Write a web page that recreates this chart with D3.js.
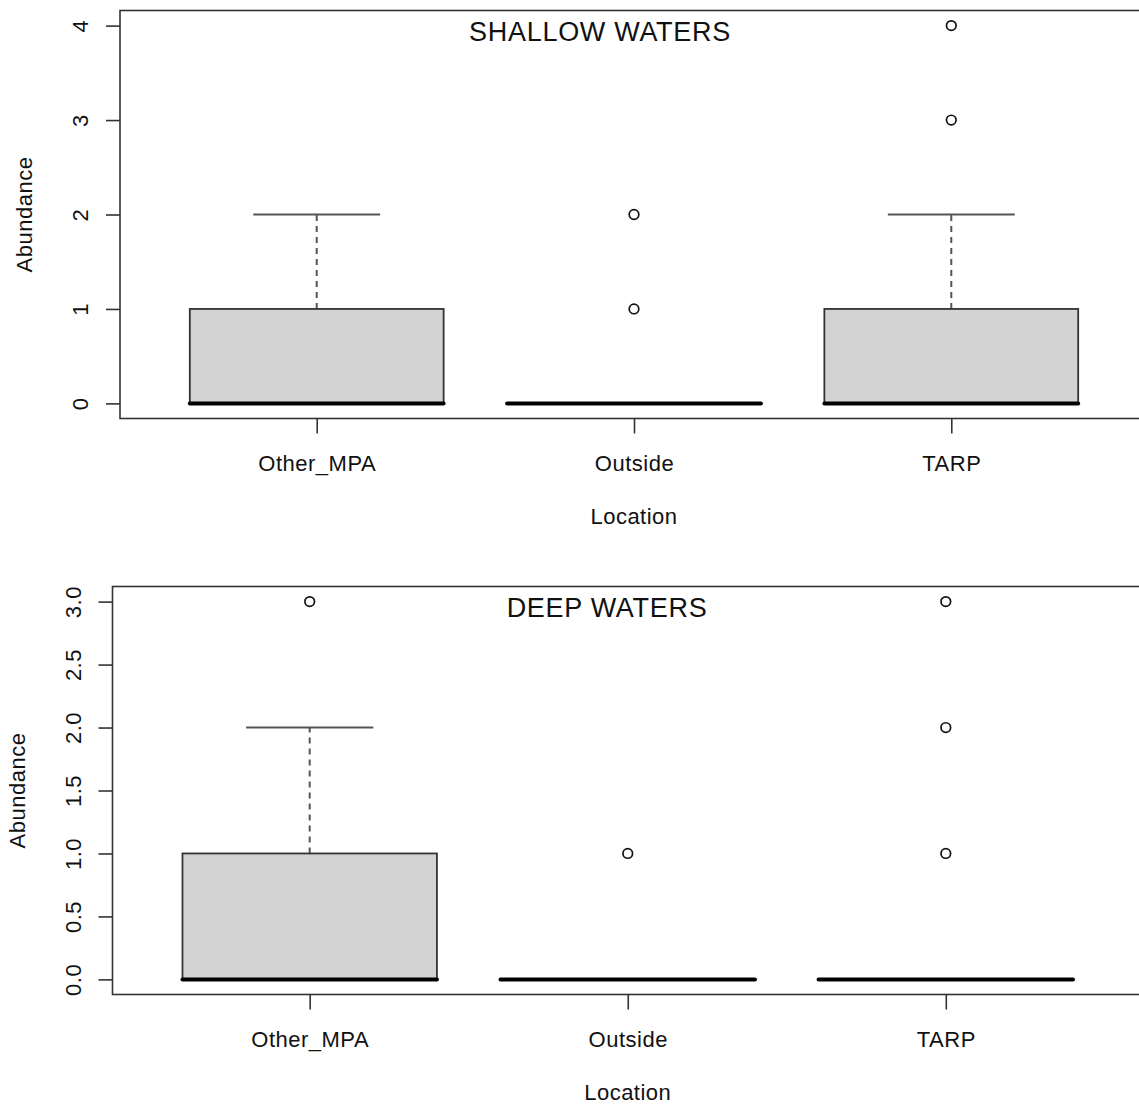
<!DOCTYPE html>
<html>
<head>
<meta charset="utf-8">
<script src="https://cdn.jsdelivr.net/npm/d3@7"></script>
<style>
  body { margin: 0; background: #fff; }
  svg { display: block; font-family: 'Liberation Sans', Arial, sans-serif; }
  .tick text { fill: #111; }
</style>
</head>
<body>
<svg id="chart"></svg>
<script>
const locations = ['Other_MPA', 'Outside', 'TARP'];

// shallow waters box stats (per location)
const shallowLow = [0, 0, 0];
const shallowQ1 = [0, 0, 0];
const shallowMedian = [0, 0, 0];
const shallowQ3 = [1, 0, 1];
const shallowHigh = [2, 0, 2];
const shallowOutliers = [[], [1, 2], [3, 4]];
const shallowTicks = [0, 1, 2, 3, 4];

// deep waters box stats
const deepLow = [0, 0, 0];
const deepQ1 = [0, 0, 0];
const deepMedian = [0, 0, 0];
const deepQ3 = [1, 0, 0];
const deepHigh = [2, 0, 0];
const deepOutliers = [[3], [1], [1, 2, 3]];
const deepTicks = [0, 0.5, 1, 1.5, 2, 2.5, 3];

const W = 1139, H = 1104;
const svg = d3.select('#chart').attr('width', W).attr('height', H);

const lineCol = '#333';

const drawPanel = cfg => {
  const g = svg.append('g');
  const n = locations.length;
  const ymax = d3.max(cfg.ticks);

  // R style: 4% padding on each side
  const x = d3.scaleLinear()
    .domain([0.5 - 0.04 * n, n + 0.5 + 0.04 * n])
    .range([cfg.left, cfg.right]);
  const y = d3.scaleLinear()
    .domain([-0.04 * ymax, ymax * 1.04])
    .range([cfg.bottom, cfg.top]);

  const boxes = locations.map((loc, i) => ({
    loc: loc,
    pos: i + 1,
    low: cfg.low[i],
    q1: cfg.q1[i],
    med: cfg.median[i],
    q3: cfg.q3[i],
    high: cfg.high[i],
    out: cfg.outliers[i]
  }));

  const b = g.selectAll('.box').data(boxes).enter().append('g').classed('box', true);

  // upper whisker (dashed) + cap
  b.filter(d => d.high > d.q3).append('line')
    .attr('x1', d => x(d.pos)).attr('x2', d => x(d.pos))
    .attr('y1', d => y(d.q3)).attr('y2', d => y(d.high))
    .attr('stroke', '#555').attr('stroke-width', 2)
    .attr('stroke-dasharray', '6,5');
  b.filter(d => d.high > d.q3).append('line')
    .attr('x1', d => x(d.pos - 0.2)).attr('x2', d => x(d.pos + 0.2))
    .attr('y1', d => y(d.high)).attr('y2', d => y(d.high))
    .attr('stroke', '#555').attr('stroke-width', 2);

  // lower whisker
  b.filter(d => d.low < d.q1).append('line')
    .attr('x1', d => x(d.pos)).attr('x2', d => x(d.pos))
    .attr('y1', d => y(d.q1)).attr('y2', d => y(d.low))
    .attr('stroke', '#555').attr('stroke-width', 2)
    .attr('stroke-dasharray', '6,5');

  // box
  b.filter(d => d.q3 > d.q1).append('rect')
    .attr('x', d => x(d.pos - 0.4))
    .attr('width', d => x(d.pos + 0.4) - x(d.pos - 0.4))
    .attr('y', d => y(d.q3))
    .attr('height', d => y(d.q1) - y(d.q3))
    .attr('fill', '#d3d3d3')
    .attr('stroke', lineCol).attr('stroke-width', 1.8);

  // median
  b.append('line')
    .attr('x1', d => x(d.pos - 0.4)).attr('x2', d => x(d.pos + 0.4))
    .attr('y1', d => y(d.med)).attr('y2', d => y(d.med))
    .attr('stroke', '#000').attr('stroke-width', 4)
    .attr('stroke-linecap', 'round');

  // outliers
  b.selectAll('circle').data(d => d.out.map(v => ({ pos: d.pos, v: v })))
    .enter().append('circle')
    .attr('cx', d => x(d.pos)).attr('cy', d => y(d.v))
    .attr('r', 4.8)
    .attr('fill', 'none').attr('stroke', '#111').attr('stroke-width', 1.7);

  // frame
  g.append('rect')
    .attr('x', cfg.left).attr('y', cfg.top)
    .attr('width', cfg.right - cfg.left).attr('height', cfg.bottom - cfg.top)
    .attr('fill', 'none').attr('stroke', lineCol).attr('stroke-width', 1.6);

  // y axis
  const ya = g.append('g')
    .attr('transform', 'translate(' + cfg.left + ',0)')
    .call(d3.axisLeft(y).tickValues(cfg.ticks).tickSize(14).tickFormat(cfg.fmt));
  ya.select('.domain').remove();
  ya.selectAll('.tick line').attr('stroke', lineCol).attr('stroke-width', 1.6);
  ya.selectAll('.tick text')
    .attr('transform', 'rotate(-90)')
    .attr('x', 0).attr('y', -32).attr('dy', 0)
    .attr('text-anchor', 'middle')
    .attr('font-size', 22).attr('letter-spacing', 0.5);

  // x axis
  const xa = g.append('g')
    .attr('transform', 'translate(0,' + cfg.bottom + ')')
    .call(d3.axisBottom(x).tickValues(d3.range(1, n + 1)).tickSize(15)
      .tickFormat(d => locations[d - 1]));
  xa.select('.domain').remove();
  xa.selectAll('.tick line').attr('stroke', lineCol).attr('stroke-width', 1.6);
  xa.selectAll('.tick text')
    .attr('y', 52).attr('dy', 0)
    .attr('font-size', 22).attr('letter-spacing', 0.5);

  // axis titles
  g.append('text')
    .attr('x', x(2)).attr('y', cfg.bottom + 105)
    .attr('text-anchor', 'middle')
    .attr('font-size', 22).attr('letter-spacing', 0.5).attr('fill', '#111')
    .text('Location');
  g.append('text')
    .attr('transform', 'translate(' + cfg.ylabX + ',' + y(ymax / 2) + ') rotate(-90)')
    .attr('text-anchor', 'middle')
    .attr('font-size', 22).attr('letter-spacing', 0.5).attr('fill', '#111')
    .text('Abundance');

  // panel title
  g.append('text')
    .attr('x', cfg.titleX).attr('y', y(ymax) + 15)
    .attr('text-anchor', 'middle')
    .attr('font-size', 27).attr('letter-spacing', 0.7).attr('fill', '#111')
    .text(cfg.title);
};

drawPanel({
  title: 'SHALLOW WATERS', titleX: 600,
  left: 120, right: 1148, top: 10.5, bottom: 418.5, ylabX: 31.5,
  low: shallowLow, q1: shallowQ1, median: shallowMedian, q3: shallowQ3,
  high: shallowHigh, outliers: shallowOutliers,
  ticks: shallowTicks, fmt: d3.format('d')
});

drawPanel({
  title: 'DEEP WATERS', titleX: 607,
  left: 112.5, right: 1143, top: 586.5, bottom: 994.5, ylabX: 25,
  low: deepLow, q1: deepQ1, median: deepMedian, q3: deepQ3,
  high: deepHigh, outliers: deepOutliers,
  ticks: deepTicks, fmt: d3.format('.1f')
});
</script>
</body>
</html>
